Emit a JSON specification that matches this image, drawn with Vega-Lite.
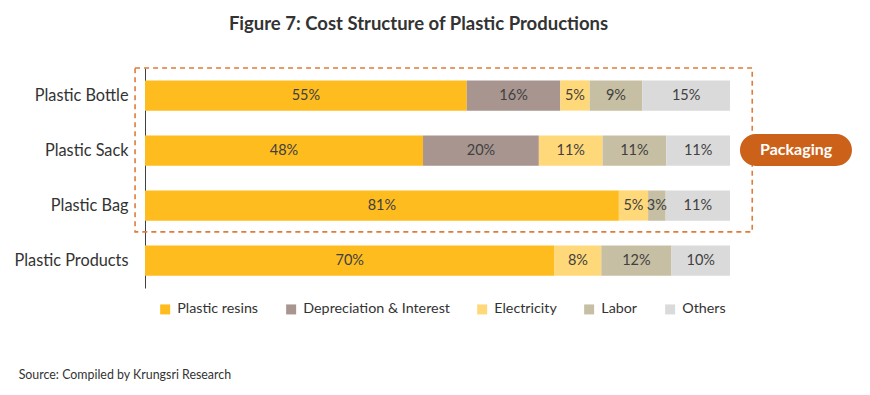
{
  "$schema": "https://vega.github.io/schema/vega-lite/v6.json",
  "autosize": {"type": "none"},
  "padding": {"left": 145, "top": 68, "right": 140, "bottom": 107},
  "width": 585,
  "height": 220,
  "background": "white",
  "config": {
    "view": {"stroke": null},
    "font": "Lato",
    "text": {"font": "Lato"}
  },
  "title": {
    "text": "Figure 7: Cost Structure of Plastic Productions",
    "anchor": "middle",
    "dx": -19,
    "offset": 34,
    "font": "Lato",
    "fontSize": 18.5,
    "fontWeight": "bold",
    "color": "#333333"
  },
  "resolve": {"scale": {"y": "independent"}},
  "layer": [
    {
      "data": {
        "values": [
          {"product": "Plastic Bottle", "cost": "Plastic resins", "seq": 1, "share": 55, "label": "55%"},
          {"product": "Plastic Bottle", "cost": "Depreciation & Interest", "seq": 2, "share": 16, "label": "16%"},
          {"product": "Plastic Bottle", "cost": "Electricity", "seq": 3, "share": 5, "label": "5%"},
          {"product": "Plastic Bottle", "cost": "Labor", "seq": 4, "share": 9, "label": "9%"},
          {"product": "Plastic Bottle", "cost": "Others", "seq": 5, "share": 15, "label": "15%"},
          {"product": "Plastic Sack", "cost": "Plastic resins", "seq": 1, "share": 48, "label": "48%"},
          {"product": "Plastic Sack", "cost": "Depreciation & Interest", "seq": 2, "share": 20, "label": "20%"},
          {"product": "Plastic Sack", "cost": "Electricity", "seq": 3, "share": 11, "label": "11%"},
          {"product": "Plastic Sack", "cost": "Labor", "seq": 4, "share": 11, "label": "11%"},
          {"product": "Plastic Sack", "cost": "Others", "seq": 5, "share": 11, "label": "11%"},
          {"product": "Plastic Bag", "cost": "Plastic resins", "seq": 1, "share": 81, "label": "81%"},
          {"product": "Plastic Bag", "cost": "Electricity", "seq": 3, "share": 5, "label": "5%"},
          {"product": "Plastic Bag", "cost": "Labor", "seq": 4, "share": 3, "label": "3%"},
          {"product": "Plastic Bag", "cost": "Others", "seq": 5, "share": 11, "label": "11%"},
          {"product": "Plastic Products", "cost": "Plastic resins", "seq": 1, "share": 70, "label": "70%"},
          {"product": "Plastic Products", "cost": "Electricity", "seq": 3, "share": 8, "label": "8%"},
          {"product": "Plastic Products", "cost": "Labor", "seq": 4, "share": 12, "label": "12%"},
          {"product": "Plastic Products", "cost": "Others", "seq": 5, "share": 10, "label": "10%"}
        ]
      },
      "encoding": {
        "y": {
          "field": "product",
          "type": "nominal",
          "sort": ["Plastic Bottle", "Plastic Sack", "Plastic Bag", "Plastic Products"],
          "scale": {"paddingInner": 0.45, "paddingOuter": 0.225},
          "axis": {
            "title": null,
            "ticks": false,
            "domainColor": "#404040",
            "domainWidth": 1,
            "labelFont": "Lato",
            "labelFontSize": 16.3,
            "labelColor": "#333333",
            "labelPadding": 17
          }
        }
      },
      "layer": [
        {
          "mark": {"type": "bar"},
          "encoding": {
            "x": {
              "field": "share",
              "type": "quantitative",
              "stack": "normalize",
              "scale": {"domain": [0, 1], "nice": false},
              "axis": null
            },
            "order": {"field": "seq", "type": "quantitative"},
            "color": {
              "field": "cost",
              "type": "nominal",
              "sort": ["Plastic resins", "Depreciation & Interest", "Electricity", "Labor", "Others"],
              "scale": {
                "domain": ["Plastic resins", "Depreciation & Interest", "Electricity", "Labor", "Others"],
                "range": ["#FEBC1F", "#A8958F", "#FFD87A", "#C7BFA3", "#DADADA"]
              },
              "legend": {
                "title": null,
                "orient": "none",
                "direction": "horizontal",
                "legendX": 13,
                "legendY": 234,
                "symbolType": "square",
                "symbolSize": 100,
                "symbolStrokeWidth": 0,
                "labelFont": "Lato",
                "labelFontSize": 14.3,
                "labelColor": "#333333",
                "labelOffset": 5,
                "columnPadding": 25
              }
            }
          }
        },
        {
          "mark": {"type": "text", "color": "#404040", "fontSize": 14.5, "font": "Lato"},
          "encoding": {
            "x": {
              "field": "share",
              "type": "quantitative",
              "stack": "normalize",
              "bandPosition": 0.5,
              "scale": {"domain": [0, 1], "nice": false},
              "axis": null
            },
            "order": {"field": "seq", "type": "quantitative"},
            "detail": {"field": "cost", "type": "nominal"},
            "text": {"field": "label", "type": "nominal"}
          }
        }
      ]
    },
    {
      "data": {"values": [{"group": "Packaging", "note": "Source: Compiled by Krungsri Research"}]},
      "layer": [
        {
          "mark": {"type": "rect", "fill": null, "fillOpacity": 0, "stroke": "#E07B39", "strokeWidth": 1.6, "strokeDash": [5, 4]},
          "encoding": {
            "x": {"datum": -0.017, "type": "quantitative", "scale": {"domain": [0, 1], "nice": false}, "axis": null},
            "x2": {"datum": 1.038},
            "y": {"datum": 0, "type": "quantitative", "scale": {"domain": [0, 4], "reverse": true, "nice": false}, "axis": null},
            "y2": {"datum": 2.98}
          }
        },
        {
          "mark": {"type": "rect", "fill": "#CC6119", "cornerRadius": 16},
          "encoding": {
            "x": {"datum": 1.017, "type": "quantitative", "scale": {"domain": [0, 1], "nice": false}, "axis": null},
            "x2": {"datum": 1.2085},
            "y": {"datum": 1.2, "type": "quantitative", "scale": {"domain": [0, 4], "reverse": true, "nice": false}, "axis": null},
            "y2": {"datum": 1.78}
          }
        },
        {
          "mark": {"type": "text", "color": "white", "fontSize": 16, "fontWeight": "bold", "font": "Lato"},
          "encoding": {
            "x": {"datum": 1.113, "type": "quantitative", "scale": {"domain": [0, 1], "nice": false}, "axis": null},
            "y": {"datum": 1.49, "type": "quantitative", "scale": {"domain": [0, 4], "reverse": true, "nice": false}, "axis": null},
            "text": {"field": "group", "type": "nominal"}
          }
        },
        {
          "mark": {"type": "text", "color": "#333333", "fontSize": 12.4, "font": "Lato", "align": "left"},
          "encoding": {
            "x": {"datum": -0.216, "type": "quantitative", "scale": {"domain": [0, 1], "nice": false}, "axis": null},
            "y": {"datum": 5.58, "type": "quantitative", "scale": {"domain": [0, 4], "reverse": true, "nice": false}, "axis": null},
            "text": {"field": "note", "type": "nominal"}
          }
        }
      ]
    }
  ]
}
